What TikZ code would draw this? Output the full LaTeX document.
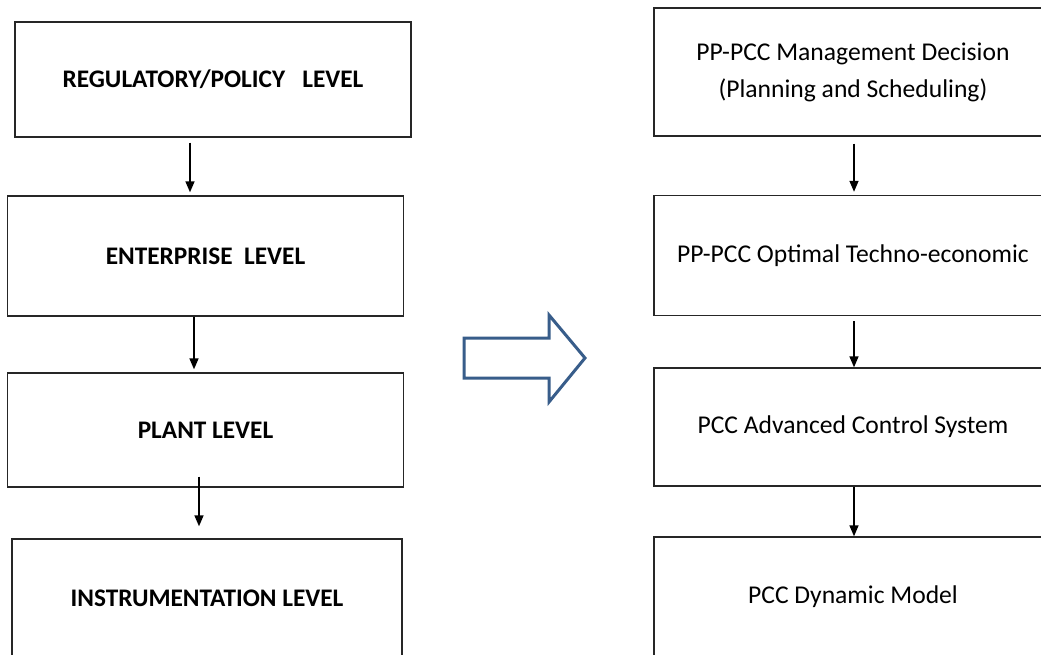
\documentclass[tikz,border=0pt]{standalone}
\usepackage{fontspec}
\setmainfont{Carlito}
\usetikzlibrary{arrows.meta}
\tikzset{
  lbox/.style={draw=black!85, line width=1.4pt, minimum width=396pt, inner sep=0pt, font=\fontsize{25.3}{30}\selectfont\bfseries},
  rbox/.style={draw=black!85, line width=1.4pt, minimum width=398pt, inner sep=0pt, align=center, font=\fontsize{25.6}{37}\selectfont},
  arr/.style={draw=black, line width=1.5pt, -{Triangle[width=9pt,length=11pt]}},
  bigarrow/.style={draw={rgb,255:red,56;green,93;blue,138}, line width=3pt, line join=miter}
}
\begin{document}
\begin{tikzpicture}[x=1pt,y=-1pt]
\clip (0,0) rectangle (1041,654);
\fill[white] (0,0) rectangle (1041,654);
% left column
\node[lbox, minimum height=115pt] (l1) at (213,79.5) {REGULATORY/POLICY\ \ \ LEVEL};
\node[lbox, minimum height=120pt] (l2) at (205.5,256) {ENTERPRISE\ \ LEVEL};
\node[lbox, minimum height=114pt] (l3) at (205.5,430) {PLANT LEVEL};
\node[lbox, minimum height=118pt, minimum width=390pt] (l4) at (207,598) {INSTRUMENTATION LEVEL};
% right column
\node[rbox, minimum height=128pt] (r1) at (853,72) {PP-PCC Management Decision\\(Planning and Scheduling)};
\node[rbox, minimum height=120pt] (r2) at (853,255.5) {PP-PCC Optimal Techno-economic};
\node[rbox, minimum height=118pt] (r3) at (853,427) {PCC Advanced Control System};
\node[rbox, minimum height=120pt] (r4) at (853,597) {PCC Dynamic Model};
% left connectors
\coordinate (a1) at ([xshift=-23pt,yshift=-5pt]l1.south);
\coordinate (b1) at ([yshift=3pt]l2.north);
\draw[arr] (a1) -- (a1 |- b1);
\coordinate (a2) at ([xshift=-11.5pt]l2.south);
\coordinate (b2) at ([yshift=3pt]l3.north);
\draw[arr] (a2) -- (a2 |- b2);
\coordinate (a3) at ([xshift=-6.5pt,yshift=11pt]l3.south);
\coordinate (b3) at ([yshift=12pt]l4.north);
\draw[arr] (a3) -- (a3 |- b3);
% right connectors
\coordinate (c1) at ([xshift=1pt,yshift=-7pt]r1.south);
\coordinate (d1) at ([yshift=3pt]r2.north);
\draw[arr] (c1) -- (c1 |- d1);
\coordinate (c2) at ([xshift=1pt,yshift=-5pt]r2.south);
\coordinate (d2) at (r3.north);
\draw[arr] (c2) -- (c2 |- d2);
\coordinate (c3) at ([xshift=1pt]r3.south);
\coordinate (d3) at (r4.north);
\draw[arr] (c3) -- (c3 |- d3);
% big block arrow
\draw[bigarrow] (464,338) -- (549,338) -- (549,315) -- (585,358) -- (549,402) -- (549,378) -- (464,378) -- cycle;
\end{tikzpicture}
\end{document}
